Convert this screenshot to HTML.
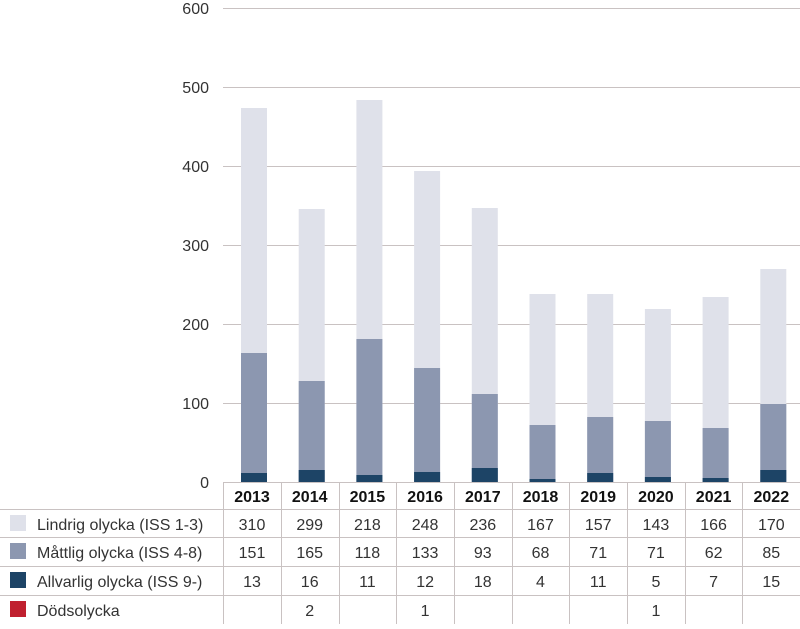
<!DOCTYPE html><html><head><style>
body{margin:0;width:800px;height:624px;background:#fff;font-family:"Liberation Sans",sans-serif;color:#222;overflow:hidden}
</style></head><body>
<svg width="800" height="624" xmlns="http://www.w3.org/2000/svg" font-family="Liberation Sans, sans-serif">
<g stroke="#c9c2c2" stroke-width="1">
<line x1="223" x2="800" y1="8.5" y2="8.5"/><line x1="223" x2="800" y1="87.5" y2="87.5"/><line x1="223" x2="800" y1="166.5" y2="166.5"/><line x1="223" x2="800" y1="245.5" y2="245.5"/><line x1="223" x2="800" y1="324.5" y2="324.5"/><line x1="223" x2="800" y1="403.5" y2="403.5"/>
</g>
<g font-size="16" fill="#333" text-anchor="end">
<text x="209" y="14">600</text><text x="209" y="93">500</text><text x="209" y="172">400</text><text x="209" y="251">300</text><text x="209" y="330">200</text><text x="209" y="409">100</text><text x="209" y="488">0</text>
</g>
<g fill="#dfe1ea">
<rect x="241" y="108" width="26" height="374"/>
<rect x="298.7" y="209" width="26" height="273"/>
<rect x="356.4" y="100" width="26" height="382"/>
<rect x="414.1" y="171" width="26" height="311"/>
<rect x="471.8" y="208" width="26" height="274"/>
<rect x="529.5" y="294" width="26" height="188"/>
<rect x="587.2" y="294" width="26" height="188"/>
<rect x="644.9" y="309" width="26" height="173"/>
<rect x="702.6" y="297" width="26" height="185"/>
<rect x="760.3" y="269" width="26" height="213"/>
</g>
<g fill="#8c97b0">
<rect x="241" y="353" width="26" height="129"/>
<rect x="298.7" y="381" width="26" height="101"/>
<rect x="356.4" y="339" width="26" height="143"/>
<rect x="414.1" y="368" width="26" height="114"/>
<rect x="471.8" y="394" width="26" height="88"/>
<rect x="529.5" y="425" width="26" height="57"/>
<rect x="587.2" y="417" width="26" height="65"/>
<rect x="644.9" y="421" width="26" height="61"/>
<rect x="702.6" y="428" width="26" height="54"/>
<rect x="760.3" y="404" width="26" height="78"/>
</g>
<g fill="#1d4466">
<rect x="241" y="473" width="26" height="9"/>
<rect x="298.7" y="470" width="26" height="12"/>
<rect x="356.4" y="475" width="26" height="7"/>
<rect x="414.1" y="472" width="26" height="10"/>
<rect x="471.8" y="468" width="26" height="14"/>
<rect x="529.5" y="479" width="26" height="3"/>
<rect x="587.2" y="473" width="26" height="9"/>
<rect x="644.9" y="477" width="26" height="5"/>
<rect x="702.6" y="478" width="26" height="4"/>
<rect x="760.3" y="470" width="26" height="12"/>
</g>
<g stroke="#c9c2c2" stroke-width="1">
<line x1="0" x2="800" y1="509.5" y2="509.5"/><line x1="0" x2="800" y1="537.5" y2="537.5"/><line x1="0" x2="800" y1="566.5" y2="566.5"/><line x1="0" x2="800" y1="595.5" y2="595.5"/>
<line x1="223" x2="800" y1="482.5" y2="482.5"/>
<line x1="223.5" x2="223.5" y1="482" y2="624"/><line x1="281.5" x2="281.5" y1="482" y2="624"/><line x1="339.5" x2="339.5" y1="482" y2="624"/><line x1="396.5" x2="396.5" y1="482" y2="624"/><line x1="454.5" x2="454.5" y1="482" y2="624"/><line x1="512.5" x2="512.5" y1="482" y2="624"/><line x1="569.5" x2="569.5" y1="482" y2="624"/><line x1="627.5" x2="627.5" y1="482" y2="624"/><line x1="685.5" x2="685.5" y1="482" y2="624"/><line x1="742.5" x2="742.5" y1="482" y2="624"/>
</g>
<g font-size="16" text-anchor="middle" font-weight="bold" fill="#111">
<text x="252" y="502">2013</text><text x="309.7" y="502">2014</text><text x="367.4" y="502">2015</text><text x="425.1" y="502">2016</text><text x="482.8" y="502">2017</text><text x="540.5" y="502">2018</text><text x="598.2" y="502">2019</text><text x="655.9" y="502">2020</text><text x="713.6" y="502">2021</text><text x="771.3" y="502">2022</text>
</g>
<g font-size="16" text-anchor="middle" fill="#333">
<text x="252" y="530">310</text><text x="309.7" y="530">299</text><text x="367.4" y="530">218</text><text x="425.1" y="530">248</text><text x="482.8" y="530">236</text><text x="540.5" y="530">167</text><text x="598.2" y="530">157</text><text x="655.9" y="530">143</text><text x="713.6" y="530">166</text><text x="771.3" y="530">170</text>
<text x="252" y="558">151</text><text x="309.7" y="558">165</text><text x="367.4" y="558">118</text><text x="425.1" y="558">133</text><text x="482.8" y="558">93</text><text x="540.5" y="558">68</text><text x="598.2" y="558">71</text><text x="655.9" y="558">71</text><text x="713.6" y="558">62</text><text x="771.3" y="558">85</text>
<text x="252" y="587">13</text><text x="309.7" y="587">16</text><text x="367.4" y="587">11</text><text x="425.1" y="587">12</text><text x="482.8" y="587">18</text><text x="540.5" y="587">4</text><text x="598.2" y="587">11</text><text x="655.9" y="587">5</text><text x="713.6" y="587">7</text><text x="771.3" y="587">15</text>
<text x="309.7" y="616">2</text><text x="425.1" y="616">1</text><text x="655.9" y="616">1</text>
</g>
<rect x="10" y="515" width="16" height="16" fill="#dfe1ea"/>
<rect x="10" y="543" width="16" height="16" fill="#8c97b0"/>
<rect x="10" y="572" width="16" height="16" fill="#1d4466"/>
<rect x="10" y="601" width="16" height="16" fill="#c0202f"/>
<g font-size="16" fill="#333">
<text x="37" y="530">Lindrig olycka (ISS 1-3)</text>
<text x="37" y="558">Måttlig olycka (ISS 4-8)</text>
<text x="37" y="587">Allvarlig olycka (ISS 9-)</text>
<text x="37" y="616">Dödsolycka</text>
</g>
</svg>
</body></html>
